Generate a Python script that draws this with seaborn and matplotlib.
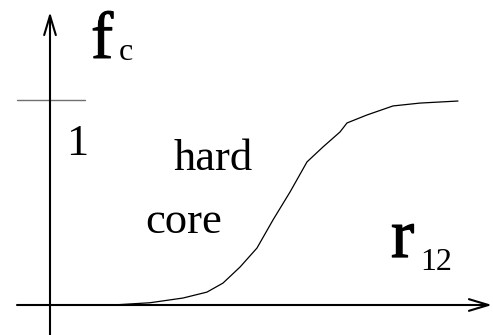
import matplotlib
matplotlib.use("Agg")
import matplotlib.pyplot as plt
import matplotlib.patheffects as pe
import seaborn as sns
import pandas as pd

# Correlation factor f_c as a function of the interparticle distance r_12
r12 = [0.63, 1.00, 1.33, 1.57, 1.73, 1.90, 2.07, 2.23, 2.40, 2.57, 2.73, 2.90,
       2.97, 3.17, 3.43, 3.70, 4.08]
fc = [0.0, 0.011, 0.034, 0.063, 0.107, 0.185, 0.278, 0.415, 0.551, 0.698, 0.771,
      0.844, 0.888, 0.927, 0.971, 0.985, 0.995]
one_level = 1.0

sns.set_theme(style="white")
plt.rcParams["font.family"] = ["Liberation Serif", "DejaVu Serif"]

W, H = 493, 335
fig = plt.figure(figsize=(W / 100, H / 100), dpi=100)
ax = fig.add_axes([0, 0, 1, 1])
ax.set_axis_off()

# pixel <-> data helpers (x: 100 px per unit from x=50; y: 205 px per unit from y=305)
def dx(px):
    return (px - 50) / 100.0

def dy(py):
    return (305 - py) / 205.0

ax.set_xlim(dx(0), dx(W))
ax.set_ylim(dy(H), dy(0))

df = pd.DataFrame({"r12": r12, "fc": fc})
sns.lineplot(data=df, x="r12", y="fc", sort=False, color="black", lw=0.9, ax=ax)

arrow = dict(arrowstyle="->,head_length=1.4,head_width=0.42", color="black",
             lw=1.5, shrinkA=0, shrinkB=0, mutation_scale=10)
# horizontal axis
ax.annotate("", xy=(dx(492), 0), xytext=(dx(17), 0), arrowprops=arrow)
# vertical axis
ax.annotate("", xy=(0, dy(12)), xytext=(0, dy(H)), arrowprops=arrow)

# level marking f_c = 1
ax.plot([dx(17), dx(85)], [one_level, one_level], color="#707070", lw=1.0)

def label(px, py, s, size, ha="left", stroke=None):
    effects = [pe.withStroke(linewidth=stroke, foreground="black")] if stroke else None
    ax.text(dx(px), dy(py), s, fontsize=size, ha=ha, va="baseline", color="black",
            path_effects=effects)

label(91, 58, "f", 48, stroke=0.7)
label(119, 60, "c", 23)
label(77.5, 155, "1", 32, ha="center")
label(174, 170, "hard", 32)
label(145, 233, "core", 32)
label(391, 257, "r", 50, stroke=0.9)
label(420, 270, "12", 23)

fig.savefig("out.png", dpi=100)
